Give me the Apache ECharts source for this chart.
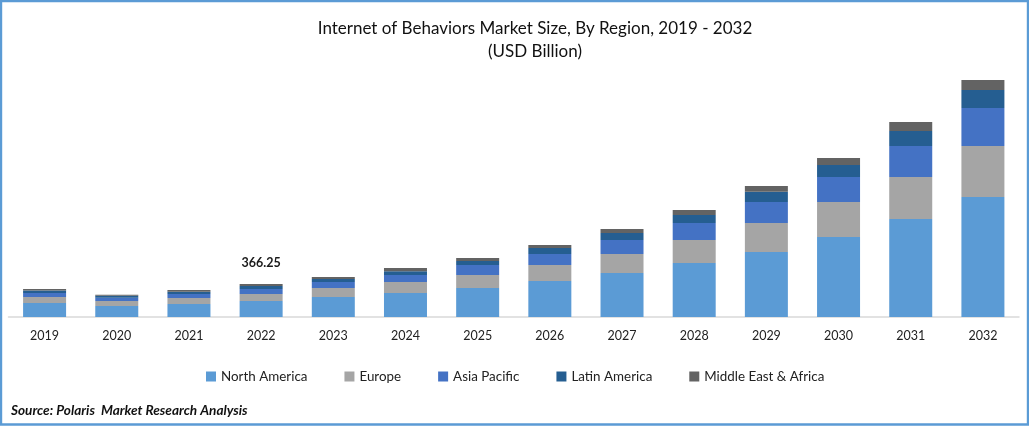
<!DOCTYPE html>
<html>
<head>
<meta charset="utf-8">
<title>Internet of Behaviors Market Size</title>
<script src="https://cdn.jsdelivr.net/npm/echarts@6/dist/echarts.min.js"></script>
<style>
html, body { margin: 0; padding: 0; background: #fff; }
#chart { width: 1029px; height: 426px; }
</style>
</head>
<body>
<div id="chart"></div>
<script>
var years = ['2019','2020','2021','2022','2023','2024','2025','2026','2027','2028','2029','2030','2031','2032'];
// USD billion (2022 total is printed as 366.25)
var northAmerica = [155, 122, 144, 177.6, 222, 266, 322, 400, 488, 599, 722, 888, 1088, 1332];
var europe = [67, 56, 67, 77.7, 100, 122, 144, 178, 211, 255, 322, 389, 466, 566];
var asiaPacific = [44, 37, 44, 55.5, 67, 78, 111, 122, 155, 189, 233, 278, 344, 422];
var latinAmerica = [28, 22, 26, 33.3, 33, 41, 44, 67, 78, 89, 114, 133, 167, 200];
var middleEast = [17, 11, 19, 22.15, 22, 37, 33, 33, 44, 55, 63, 78, 100, 111];
var totalLabels = ['', '', '', '366.25', '', '', '', '', '', '', '', '', '', ''];

var regionNames = ['North America', 'Europe', 'Asia Pacific', 'Latin America', 'Middle East & Africa'];
var regionColors = ['#5B9BD5', '#A5A5A5', '#4472C4', '#255E91', '#636363'];
var regionValues = [northAmerica, europe, asiaPacific, latinAmerica, middleEast];

var fontName = 'Lato';

var seriesList = regionNames.map(function (name, i) {
	var s = {
		name: name,
		type: 'bar',
		stack: 'total',
		barWidth: 43,
		data: regionValues[i],
		itemStyle: { color: regionColors[i] }
	};
	// only the top series carries the printed total
	if (i === regionNames.length - 1) {
		s.label = {
			show: true,
			position: 'top',
			distance: 15,
			fontFamily: fontName,
			fontSize: 12.5,
			fontWeight: 'bold',
			color: '#1a1a1a',
			formatter: function (p) { return totalLabels[p.dataIndex]; }
		};
	}
	return s;
});

var chart = echarts.init(document.getElementById('chart'), null, { renderer: 'canvas' });
chart.setOption({
	animation: false,
	backgroundColor: '#fff',
	color: regionColors,
	title: [
		{
			text: 'Internet of Behaviors Market Size, By Region, 2019 - 2032\n(USD Billion)',
			left: 530,
			top: 12,
			textAlign: 'center',
			textStyle: {
				fontFamily: fontName,
				fontSize: 17,
				fontWeight: 'normal',
				color: '#111',
				lineHeight: 23
			}
		},
		{
			text: 'Source: Polaris  Market Research Analysis',
			left: 6,
			top: 399,
			textStyle: {
				fontFamily: fontName,
				fontSize: 13.6,
				fontWeight: 'bold',
				fontStyle: 'italic',
				color: '#111'
			}
		}
	],
	legend: {
		data: regionNames,
		left: 201,
		top: 365,
		itemWidth: 10,
		itemHeight: 10,
		itemGap: 37,
		icon: 'rect',
		textStyle: { fontFamily: fontName, fontSize: 13.4, color: '#222' }
	},
	grid: { left: 8.5, right: 10, top: 77, bottom: 109 },
	xAxis: {
		type: 'category',
		data: years,
		axisLine: { show: true, lineStyle: { color: '#D9D9D9', width: 1.5 } },
		axisTick: { show: false },
		axisLabel: { fontFamily: fontName, fontSize: 12.5, color: '#222', margin: 12 }
	},
	yAxis: {
		type: 'value',
		min: 0,
		max: 2664,
		show: false,
		splitLine: { show: false }
	},
	series: seriesList,
	graphic: [
		{
			type: 'rect',
			silent: true,
			z: 100,
			shape: { x: 1, y: 1, width: 1027, height: 423.5 },
			style: { fill: 'none', stroke: '#5B9BD5', lineWidth: 2.4 }
		}
	]
});
</script>
</body>
</html>
